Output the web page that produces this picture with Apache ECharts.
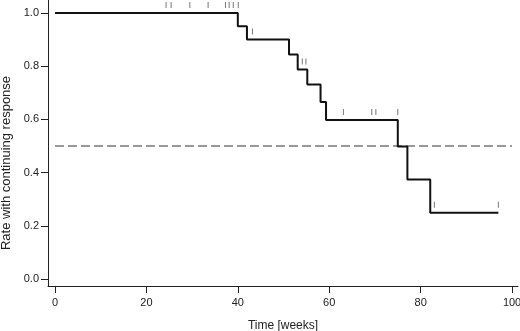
<!DOCTYPE html>
<html>
<head>
<meta charset="utf-8">
<script src="https://cdn.jsdelivr.net/npm/echarts@6/dist/echarts.min.js"></script>
<style>
  html, body { margin: 0; padding: 0; background: #fff; }
  #chart { width: 520px; height: 331px; }
</style>
</head>
<body>
<div id="chart"></div>
<script>
// step points of the survival curve (week, rate)
var stepWeeks = [0, 40.0, 42.0, 51.2, 53.1, 55.2, 58.1, 59.3, 75.0, 77.1, 82.1, 97.0];
var stepRates = [1.0, 0.95, 0.90, 0.844, 0.788, 0.731, 0.665, 0.598, 0.498, 0.374, 0.249, 0.249];

// censored observations
var censorWeeks = [24.3, 25.4, 29.5, 33.5, 37.3, 38.1, 39.0, 40.1, 43.2, 54.1, 54.9, 63.1, 69.3, 70.2, 75.0, 83.0, 97.0];
var censorRates = [1.0, 1.0, 1.0, 1.0, 1.0, 1.0, 1.0, 1.0, 0.90, 0.788, 0.788, 0.598, 0.598, 0.598, 0.598, 0.249, 0.249];

// median reference line
var refWeeks = [0, 100];
var refRates = [0.5, 0.5];

var xTicks = [0, 20, 40, 60, 80, 100];
var yTicks = [0, 0.2, 0.4, 0.6, 0.8, 1.0];

var fontFam = "'Liberation Sans', Arial, Helvetica, sans-serif";

var chart = echarts.init(document.getElementById("chart"));

var option = {
  animation: false,
  backgroundColor: "#fff",
  grid: {
    left: 48,
    right: 2,
    top: 0,
    bottom: 45,
    outerBoundsMode: "none"
  },
  xAxis: {
    type: "value",
    min: -1.53,
    max: 101.3,
    name: "Time [weeks]",
    nameLocation: "middle",
    nameGap: 34,
    nameTextStyle: { color: "#222", fontSize: 12, fontFamily: fontFam, verticalAlign: "top" },
    axisLine: { show: true, onZero: false, lineStyle: { color: "#222", width: 1 } },
    axisTick: { show: true, length: 7, customValues: xTicks, lineStyle: { color: "#222" } },
    axisLabel: {
      customValues: xTicks,
      color: "#222",
      fontSize: 11,
      fontFamily: fontFam,
      margin: 11
    },
    splitLine: { show: false }
  },
  yAxis: {
    type: "value",
    min: -0.0263,
    max: 1.0489,
    name: "Rate with continuing response",
    nameLocation: "middle",
    nameGap: 34,
    nameTextStyle: { color: "#222", fontSize: 13, fontFamily: fontFam, padding: [0, 40, 0, 0] },
    axisLine: { show: true, onZero: false, lineStyle: { color: "#222", width: 1 } },
    axisTick: { show: true, length: 7, customValues: yTicks, lineStyle: { color: "#222" } },
    axisLabel: {
      customValues: yTicks,
      color: "#222",
      fontSize: 11,
      fontFamily: fontFam,
      margin: 9,
      formatter: function (v) { return v.toFixed(1); }
    },
    splitLine: { show: false }
  },
  series: [
    {
      name: "reference",
      type: "line",
      data: refWeeks.map(function (w, i) { return [w, refRates[i]]; }),
      symbol: "none",
      lineStyle: { color: "#333", width: 1.2, type: [9, 4] },
      silent: true
    },
    {
      name: "response",
      type: "line",
      step: "end",
      data: stepWeeks.map(function (w, i) { return [w, stepRates[i]]; }),
      symbol: "none",
      lineStyle: { color: "#111", width: 2 }
    },
    {
      name: "censored",
      type: "scatter",
      data: censorWeeks.map(function (w, i) { return [w, censorRates[i]]; }),
      symbol: "rect",
      symbolSize: [1, 6],
      symbolOffset: [0, -8],
      itemStyle: { color: "#555" }
    }
  ]
};

chart.setOption(option);
</script>
</body>
</html>
